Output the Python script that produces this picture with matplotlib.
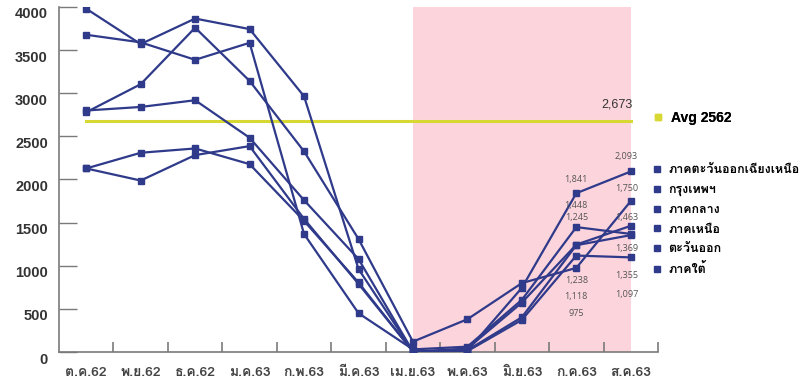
import matplotlib
matplotlib.use("Agg")
import matplotlib.pyplot as plt
import matplotlib.transforms as mtransforms
from matplotlib import font_manager
from matplotlib.ft2font import FT2Font
from matplotlib.lines import Line2D

months = ['ต.ค.62', 'พ.ย.62', 'ธ.ค.62', 'ม.ค.63', 'ก.พ.63', 'มี.ค.63',
          'เม.ย.63', 'พ.ค.63', 'มิ.ย.63', 'ก.ค.63', 'ส.ค.63']

regions = ['ภาคตะวันออกเฉียงเหนือ', 'กรุงเทพฯ', 'ภาคกลาง', 'ภาคเหนือ', 'ตะวันออก', 'ภาคใต้']

northeast = [3980, 3570, 3866, 3744, 2965, 962, 5, 15, 744, 1841, 2093]
bangkok = [2780, 3105, 3760, 3143, 2326, 1310, 120, 380, 799, 975, 1750]
central = [2800, 2841, 2919, 2484, 1760, 1078, 5, 40, 573, 1245, 1463]
north = [3678, 3590, 3388, 3585, 1368, 450, 30, 62, 605, 1448, 1369]
east = [2128, 2310, 2360, 2178, 1520, 806, 5, 20, 403, 1238, 1355]
south = [2128, 1988, 2283, 2387, 1543, 790, 5, 10, 372, 1118, 1097]

avg_2562 = 2673

# label offsets (pixels, +down) for the last two months of each region
jul_offsets = [-14, 46, -27, -22, 35, 41]
aug_offsets = [-15, -13, -8, 15, 40, 37]


def thai_family():
    for f in font_manager.fontManager.ttflist:
        try:
            if 0x0E01 in FT2Font(f.fname).get_charmap():
                return f.name
        except Exception:
            pass
    return 'DejaVu Sans'


thai = thai_family()
plt.rcParams['font.family'] = [thai, 'Liberation Sans', 'DejaVu Sans']

NAVY = '#2f3a8a'
GREY = '#7a7a7a'

fig = plt.figure(figsize=(8.07, 3.82), dpi=100)
ax = fig.add_axes([59 / 807, 1 - 352 / 382, (658 - 59) / 807, (352 - 7) / 382])

x = list(range(len(months)))
series = [northeast, bangkok, central, north, east, south]

ax.axvspan(6, 10, color='#fbd4dc', lw=0, zorder=0)
ax.plot([0, 10], [avg_2562, avg_2562], color='#d8d834', lw=2.2, zorder=2)
ax.annotate(f'{avg_2562:,}', (10, avg_2562), xytext=(-10, 8), textcoords='offset points',
            ha='center', va='bottom', fontsize=9, color='#333333',
            family=['Liberation Sans', 'DejaVu Sans'])

for vals in series:
    ax.plot(x, vals, color=NAVY, lw=1.6, marker='s', markersize=4, zorder=3)

for vals, dj, da in zip(series, jul_offsets, aug_offsets):
    ax.annotate(f'{vals[9]:,}', (9, vals[9]), xytext=(0, -dj * 0.72), textcoords='offset points',
                ha='center', va='center', fontsize=6.5, color='#555555',
                family=['Open Sans', 'DejaVu Sans'])
    ax.annotate(f'{vals[10]:,}', (10, vals[10]), xytext=(-3, -da * 0.72), textcoords='offset points',
                ha='center', va='center', fontsize=6.5, color='#555555',
                family=['Open Sans', 'DejaVu Sans'])

ax.set_xlim(-0.5, 10.5)
ax.set_ylim(0, 4000)
ax.set_yticks(range(0, 4001, 500))
ax.set_yticklabels([str(v) for v in range(0, 4001, 500)], fontsize=10.5, fontweight='bold',
                   color='#333333', family=['Liberation Sans', 'DejaVu Sans'])
ax.set_xticks(x)
ax.set_xticklabels(months, fontsize=10, fontweight='bold', color='#444444')
ax.set_xticks([i + 0.5 for i in x], minor=True)
ax.tick_params(axis='x', which='major', length=0, pad=11)
ax.tick_params(axis='x', which='minor', direction='in', length=7, width=1.2, color=GREY)
ax.tick_params(axis='y', direction='in', length=13, width=1.0, color=GREY, pad=8)

shift = mtransforms.ScaledTranslation(0, -6 / 100, fig.dpi_scale_trans)
for lab in ax.get_yticklabels():
    lab.set_transform(lab.get_transform() + shift)

for side in ['top', 'right']:
    ax.spines[side].set_visible(False)
for side in ['left', 'bottom']:
    ax.spines[side].set_color(GREY)
    ax.spines[side].set_linewidth(1.2)

avg_handle = [Line2D([], [], ls='none', marker='s', markersize=5, color='#d8d834')]
leg1 = fig.legend(avg_handle, ['Avg 2562'], loc='center left', bbox_to_anchor=(640 / 807, 1 - 118 / 382),
                  frameon=False, handlelength=0.8, handletextpad=0.5,
                  prop={'size': 10, 'weight': 'bold', 'family': ['Liberation Sans', 'DejaVu Sans']})
reg_handles = [Line2D([], [], ls='none', marker='s', markersize=5, color=NAVY) for _ in regions]
fig.legend(reg_handles, regions, loc='upper left', bbox_to_anchor=(641 / 807, 1 - 153 / 382),
           frameon=False, handlelength=0.8, handletextpad=0.5, labelspacing=0.62,
           prop={'size': 9, 'weight': 'bold', 'family': [thai, 'DejaVu Sans']})
fig.add_artist(leg1)

fig.savefig('out.png', dpi=100)
